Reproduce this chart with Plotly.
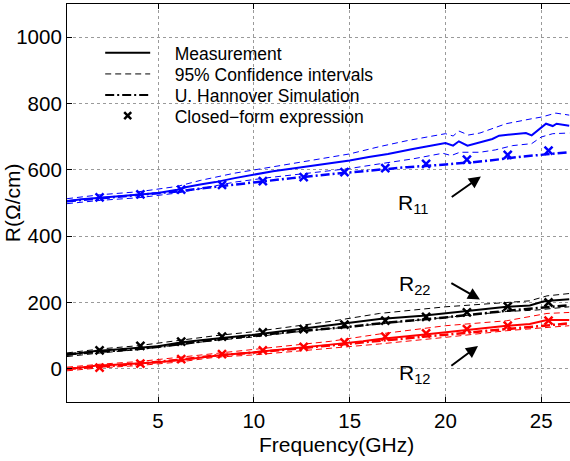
import plotly.graph_objects as go

FONT = "Liberation Sans, Arial, Helvetica, sans-serif"
BLUE = "#0000FF"
RED = "#FF0000"
BLACK = "#000000"

# ---------------- R11 ----------------
r11_meas_f = [0.25, 1, 2, 3, 4, 5, 6, 6.5, 7.2, 8, 9, 10, 11, 12.4, 13.5, 15, 16, 17, 18.3,
              19.86, 20.0, 20.4, 20.7, 21.15, 21.8, 22.45, 22.8, 23.5, 24.2, 24.5, 24.9,
              25.25, 25.6, 25.8, 26.46]
r11_meas = [505, 511, 516, 520, 525, 530, 540, 548, 556, 563, 575, 586, 596, 607, 616, 628, 639,
            648, 663, 679, 681, 673, 686, 673, 684, 693, 703, 707, 711, 704, 724,
            739, 732, 739, 733]
r11_up_f = [0.25, 2, 4, 6, 7.2, 9, 11.4, 13, 15, 16.56, 18, 20, 20.4, 20.7, 21.2, 21.8,
            23.16, 24.5, 25, 25.76, 26.46]
r11_up = [513, 525, 534, 550, 568, 590, 613, 628, 648, 670, 688, 709, 702, 717, 705, 711,
          739, 754, 759, 771, 765]
r11_lo_f = [0.25, 2, 4, 6, 7.2, 9, 10.7, 12.5, 15, 16.56, 18.3, 19.86, 20.3, 20.75, 21.8,
            22.6, 23.5, 24.5, 25, 25.6, 26.46]
r11_lo = [498, 508, 516, 530, 543, 563, 576, 588, 604, 618, 633, 650, 643, 653, 653,
          660, 673, 679, 699, 709, 711]
r11_sim_f = [0.25, 2, 4, 6, 8, 10, 12, 14, 16, 18, 20, 22, 24, 26.46]
r11_sim = [505, 514, 523, 535, 549, 563, 575, 587, 598, 608, 616, 626, 640, 653]

# closed-form markers (shared frequencies)
cf_f = [1.95, 4.08, 6.21, 8.34, 10.47, 12.6, 14.73, 16.86, 18.99, 21.12, 23.25, 25.38]
r11_cf = [517, 526, 540, 555, 566, 578, 593, 605, 618, 631, 645, 658]

# ---------------- R22 ----------------
r22_meas_f = [0.25, 1, 1.73, 3, 4.17, 5, 6.25, 7, 8.33, 9.9, 11, 12.9, 14, 15.7, 16.56, 18.8,
              20, 21.1, 22, 23.2, 24.4, 24.7, 25.1, 25.6, 26.46]
r22_meas = [42, 48, 54, 59, 64, 68, 80, 85, 93, 102, 110, 123, 130, 142, 150, 160,
            167, 173, 178, 187, 191, 197, 203, 206, 210]
r22_up_f = [0.25, 2, 4, 6, 8, 10, 12, 14, 16.56, 20, 23.2, 24.4, 25.3, 26.46]
r22_up = [48, 60, 70, 86, 100, 112, 128, 143, 167, 187, 200, 205, 220, 227]
r22_lo_f = [0.25, 2, 4, 6, 8, 10, 12, 14, 16.56, 20, 23.2, 24.7, 26.46]
r22_lo = [37, 48, 58, 72, 86, 96, 110, 121, 135, 155, 173, 177, 187]
r22_sim_f = [0.25, 2, 4, 6, 8, 10, 12, 15, 16.56, 20, 23.2, 26.46]
r22_sim = [44, 52, 60, 73, 88, 100, 112, 127, 137, 155, 175, 192]
r22_cf = [56, 69, 82, 97, 110, 120, 133, 145, 157, 170, 188, 200]

# ---------------- R12 ----------------
r12_meas_f = [0.25, 1, 1.73, 3, 4.17, 5, 6.25, 7, 8.33, 9.9, 11, 12.9, 14, 15.7, 16.56,
              18.8, 21.1, 23.2, 24.4, 25.3, 26.46]
r12_meas = [-1, 4, 9, 13, 16, 20, 27, 33, 42, 49, 56, 66, 73, 83, 90,
            103, 117, 130, 135, 147, 147]
r12_up_f = [0.25, 2, 4, 6, 8, 10, 12, 14, 16.56, 20, 23.2, 25.3, 26.46]
r12_up = [5, 14, 22, 34, 48, 58, 70, 83, 105, 130, 145, 167, 170]
r12_lo_f = [0.25, 2, 4, 6, 8, 10, 12, 14, 16.56, 20, 23.2, 26.46]
r12_lo = [-6, 3, 10, 20, 35, 42, 52, 62, 75, 95, 115, 130]
r12_sim_f = [0.25, 2, 4, 6, 8, 10, 12, 14, 16.56, 20, 23.2, 26.46]
r12_sim = [0, 8, 15, 27, 40, 49, 60, 70, 85, 102, 120, 137]
r12_cf = [4, 16, 29, 44, 56, 66, 80, 97, 107, 120, 130, 145]

x_ticks = [5, 10, 15, 20, 25]
y_ticks = [0, 200, 400, 600, 800, 1000]

legend_names = ["Measurement", "95% Confidence intervals", "U. Hannover Simulation",
                "Closed\u2212form expression"]

DASH_CI = "6px,4px"
DASH_SIM = "9px,3px,2px,3px"

fig = go.Figure()

series = [
    (BLUE, r11_meas_f, r11_meas, r11_up_f, r11_up, r11_lo_f, r11_lo, r11_sim_f, r11_sim, r11_cf),
    (BLACK, r22_meas_f, r22_meas, r22_up_f, r22_up, r22_lo_f, r22_lo, r22_sim_f, r22_sim, r22_cf),
    (RED, r12_meas_f, r12_meas, r12_up_f, r12_up, r12_lo_f, r12_lo, r12_sim_f, r12_sim, r12_cf),
]

for col, mf, mv, uf, uv, lf, lv, sf, sv, cv in series:
    fig.add_trace(go.Scatter(x=uf, y=uv, mode="lines", showlegend=False,
                             line=dict(color=col, width=1, dash=DASH_CI)))
    fig.add_trace(go.Scatter(x=lf, y=lv, mode="lines", showlegend=False,
                             line=dict(color=col, width=1, dash=DASH_CI)))
    fig.add_trace(go.Scatter(x=sf, y=sv, mode="lines", showlegend=False,
                             line=dict(color=col, width=2.5, dash=DASH_SIM)))
    fig.add_trace(go.Scatter(x=mf, y=mv, mode="lines", showlegend=False,
                             line=dict(color=col, width=2)))
    fig.add_trace(go.Scatter(x=cf_f, y=cv, mode="markers", showlegend=False,
                             marker=dict(symbol="x-thin", size=8, color=col,
                                         line=dict(color=col, width=2.5))))

# legend-only entries (black), each in its own legend box so rows can be spaced freely
pad = "\u00a0\u00a0\u00a0\u00a0"
fig.add_trace(go.Scatter(x=[None], y=[None], mode="lines", name=pad + legend_names[0],
                         legend="legend", line=dict(color=BLACK, width=2)))
fig.add_trace(go.Scatter(x=[None], y=[None], mode="lines", name=pad + legend_names[1],
                         legend="legend2", line=dict(color=BLACK, width=1, dash=DASH_CI)))
fig.add_trace(go.Scatter(x=[None], y=[None], mode="lines", name=pad + legend_names[2],
                         legend="legend3", line=dict(color=BLACK, width=2, dash=DASH_SIM)))
fig.add_trace(go.Scatter(x=[None], y=[None], mode="markers", name=pad + legend_names[3],
                         legend="legend4",
                         marker=dict(symbol="x-thin", size=7, color=BLACK,
                                     line=dict(color=BLACK, width=2.5))))

# labels with arrows
labels = [
    ("R<sub>11</sub>", 18.3, 498, 21.85, 580, 20.25, 515),
    ("R<sub>22</sub>", 18.4, 254, 21.8, 209, 20.23, 261),
    ("R<sub>12</sub>", 18.4, -15, 21.7, 69, 20.23, 6),
]
for txt, tx, ty, hx, hy, sx, sy in labels:
    fig.add_annotation(x=tx, y=ty, text=txt, showarrow=False,
                       font=dict(family=FONT, size=21, color=BLACK))
    fig.add_annotation(x=hx, y=hy, ax=sx, ay=sy, axref="x", ayref="y",
                       xref="x", yref="y", text="", showarrow=True,
                       arrowhead=2, arrowsize=1.2, arrowwidth=2, arrowcolor=BLACK)

# axis titles
fig.add_annotation(x=0.535, y=-0.106, xref="paper", yref="paper", text="Frequency(GHz)",
                   showarrow=False, xanchor="center", yanchor="middle",
                   font=dict(family=FONT, size=21, color=BLACK))
fig.add_annotation(x=-0.109, y=0.50, xref="paper", yref="paper", text="R(\u03a9/cm)",
                   textangle=-90, showarrow=False, xanchor="center", yanchor="middle",
                   font=dict(family=FONT, size=21, color=BLACK))

leg_common = dict(x=0.066, xanchor="left", yanchor="middle", bgcolor="rgba(0,0,0,0)",
                  borderwidth=0, font=dict(family=FONT, size=17.5, color=BLACK), itemwidth=45)
leg_rows = [0.877, 0.824, 0.771, 0.719]

fig.update_layout(
    width=570, height=461,
    margin=dict(l=67, r=0, t=4, b=59, autoexpand=False),
    plot_bgcolor="white", paper_bgcolor="white",
    font=dict(family=FONT, color=BLACK, size=20.5),
    showlegend=True,
    legend=dict(y=leg_rows[0], **leg_common),
    legend2=dict(y=leg_rows[1], **leg_common),
    legend3=dict(y=leg_rows[2], **leg_common),
    legend4=dict(y=leg_rows[3], **leg_common),
    xaxis=dict(range=[0.25, 26.5], tickvals=x_ticks, ticktext=[str(v) for v in x_ticks],
               showgrid=True, gridcolor="#9a9a9a", griddash="dot", gridwidth=1,
               zeroline=False, showline=True, linecolor=BLACK, linewidth=1.2,
               mirror="ticks", ticks="inside", ticklen=5, tickcolor=BLACK,
               automargin=False,
               tickfont=dict(family=FONT, size=20.5, color=BLACK)),
    yaxis=dict(range=[-100, 1100], tickvals=y_ticks, ticktext=[str(v) for v in y_ticks],
               showgrid=True, gridcolor="#9a9a9a", griddash="dot", gridwidth=1,
               zeroline=False, showline=True, linecolor=BLACK, linewidth=1.2,
               mirror=False, ticks="inside", ticklen=5, tickcolor=BLACK,
               automargin=False,
               tickfont=dict(family=FONT, size=20.5, color=BLACK)),
)

fig.write_html("out.html", config={"displayModeBar": False},
               post_script="document.body.style.margin='0px';document.body.style.overflow='hidden';")
